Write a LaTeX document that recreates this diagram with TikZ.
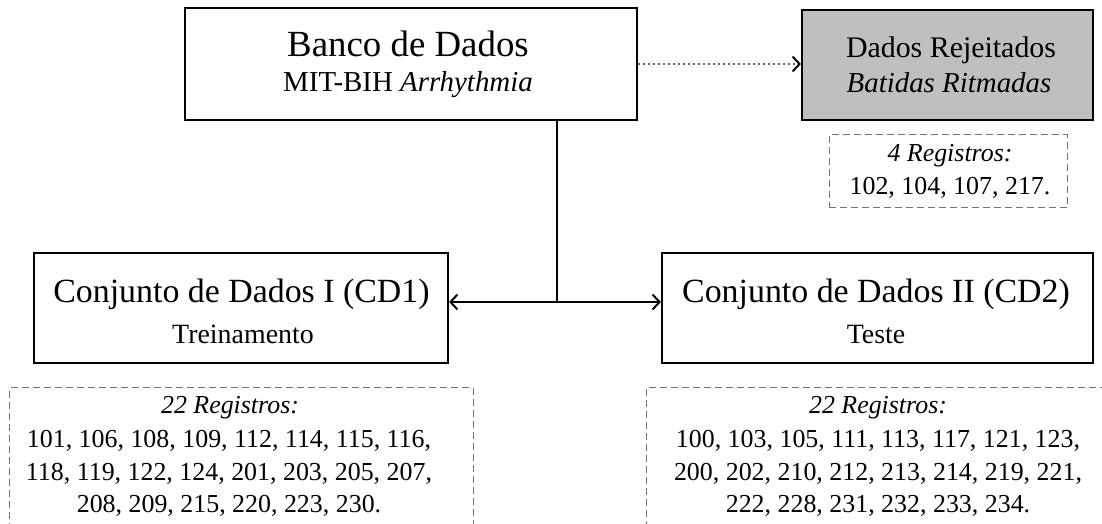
\documentclass[tikz,border=0pt]{standalone}
\usepackage{fontspec}
\setmainfont{Liberation Serif}
\usetikzlibrary{arrows.meta}
\newcommand{\fs}[1]{\fontsize{#1}{#1}\selectfont}
\tikzset{
  box/.style={draw=black, line width=2.2bp, rectangle, inner sep=0pt},
  rejbox/.style={box, fill=black!25},
  regbox/.style={draw=black!55, line width=1bp, dash pattern=on 7bp off 4bp, rectangle, inner sep=0pt},
  txt/.style={anchor=base, inner sep=0pt},
  conn/.style={line width=2bp, black},
  tip/.style={-{Straight Barb[length=7bp,width=15bp,line width=2bp]}},
}
\begin{document}
\begin{tikzpicture}[x=1bp,y=-1bp]
\useasboundingbox (0,0) rectangle (1102,524);
% boxes
\node[box, minimum width=452bp, minimum height=112bp] (banco) at (411,64) {};
\node[rejbox, minimum width=291bp, minimum height=110bp] (rej) at (947.5,65) {};
\node[regbox, minimum width=238bp, minimum height=73bp] (rejreg) at (948,171.5) {};
\node[box, minimum width=414bp, minimum height=110bp] (cd1) at (241,308) {};
\node[box, minimum width=431bp, minimum height=110bp] (cd2) at (877.5,308) {};
\node[regbox, minimum width=463bp, minimum height=160bp] (reg1) at (241.5,468) {};
\node[regbox, minimum width=464bp, minimum height=160bp] (reg2) at (878,468) {};
% texts
\node[txt, font=\fs{37}] (t1) at (408,57) {Banco de Dados};
\node[txt, font=\fs{29}] (t2) at (408,92) {MIT-BIH \textit{Arrhythmia}};
\node[txt, font=\fs{30}] (t3) at (951,58) {Dados Rejeitados};
\node[txt, font=\fs{29}] (t4) at (949,93) {\textit{Batidas Ritmadas}};
\node[txt, font=\fs{26}] (t5) at (950,162) {\textit{4 Registros:}};
\node[txt, font=\fs{26}] (t6) at (950,195) {102, 104, 107, 217.};
\node[txt, font=\fs{34}] (t7) at (241.5,303) {Conjunto de Dados I (CD1)};
\node[txt, font=\fs{28}] (t8) at (243,344) {Treinamento};
\node[txt, font=\fs{34}] (t9) at (876,303) {Conjunto de Dados II (CD2)};
\node[txt, font=\fs{28}] (t10) at (876,344) {Teste};
\node[txt, font=\fs{26}] (l1) at (230,413) {\textit{22 Registros:}};
\node[txt, font=\fs{26}] (l2) at (229,447) {101, 106, 108, 109, 112, 114, 115, 116,};
\node[txt, font=\fs{26}] (l3) at (229,480) {118, 119, 122, 124, 201, 203, 205, 207,};
\node[txt, font=\fs{26}] (l4) at (229,512) {208, 209, 215, 220, 223, 230.};
\node[txt, font=\fs{26}] (r1) at (878,413) {\textit{22 Registros:}};
\node[txt, font=\fs{26}] (r2) at (878,447) {100, 103, 105, 111, 113, 117, 121, 123,};
\node[txt, font=\fs{26}] (r3) at (878,480) {200, 202, 210, 212, 213, 214, 219, 221,};
\node[txt, font=\fs{26}] (r4) at (878,512) {222, 228, 231, 232, 233, 234.};
% connectors
\coordinate (j) at (557,302);
\draw[conn] (banco.south -| j) -- (j);
\draw[conn, tip] (j) -- (j -| cd1.east);
\draw[conn, tip] (j) -- (j -| cd2.west);
\draw[black!60, line width=1.6bp, dash pattern=on 1.6bp off 3.4bp,
  -{Straight Barb[black,length=7bp,width=15bp,line width=2bp]}]
  (banco.east) -- (banco.east -| rej.west);
\end{tikzpicture}
\end{document}
